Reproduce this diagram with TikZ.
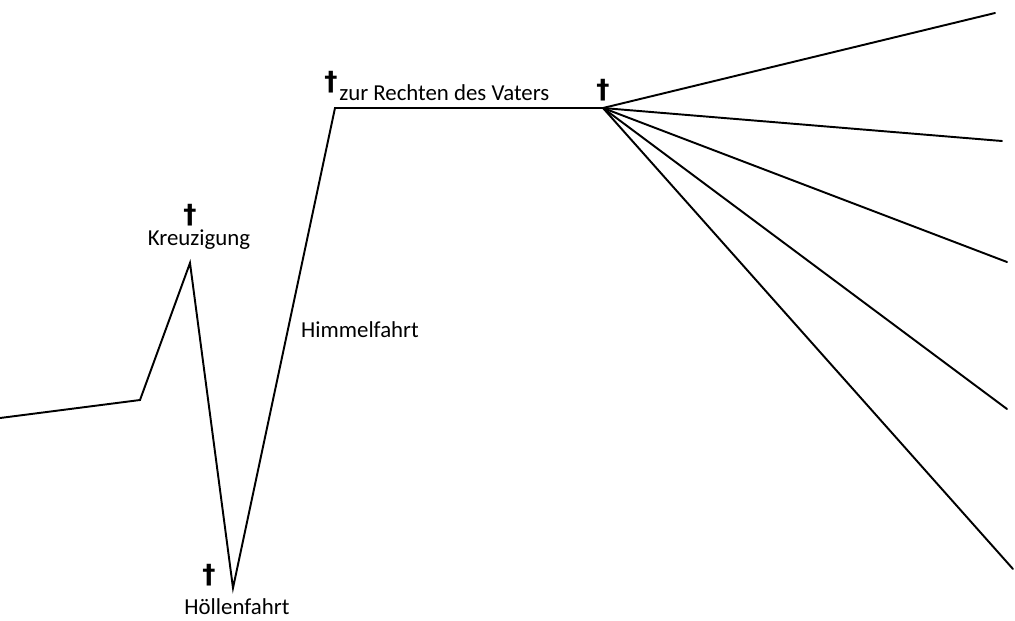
\documentclass[tikz,border=0pt]{standalone}
\usepackage{fontspec}
\setmainfont{Carlito}
\newfontfamily\kreuzschrift{DejaVu Sans}
\usetikzlibrary{positioning}

\tikzset{
  linie/.style={line width=1.1pt,line join=miter,line cap=round},
  beschrift/.style={inner sep=0pt,font=\fontsize{13}{15}\selectfont},
  kreuz/.style={inner sep=0pt,font=\fontsize{15}{15}\selectfont\kreuzschrift\bfseries}
}

\begin{document}
\begin{tikzpicture}[x=0.02cm,y=-0.02cm]
	\useasboundingbox (0,0) rectangle (1015,620);
	% Lebenslinie
	\coordinate (start) at (0,418);
	\coordinate (knick) at (140,400);
	\coordinate (kreuzigung) at (190,263);
	\coordinate (hoelle) at (233,588);
	\coordinate (rechte) at (335,108);
	\coordinate (vater) at (603,108);
	\draw[linie] (start)--(knick)--(kreuzigung)--(hoelle)--(rechte)--(vater);
	% Faecher
	\coordinate (f1) at (995,13);
	\coordinate (f2) at (1002,141);
	\coordinate (f3) at (1007,262);
	\coordinate (f4) at (1007,409);
	\coordinate (f5) at (1013,569);
	\foreach \f in {f1,f2,f3,f4,f5}
		\draw[linie] (vater)--(\f);
	% Beschriftung
	\node[beschrift] (tkreuz) at (199,240) {Kreuzigung};
	\node[kreuz] (k1) at (190,215) {†};
	\node[beschrift] (thoelle) at (237,607) {Höllenfahrt};
	\node[kreuz] (k2) at (209,575) {†};
	\node[beschrift] (thimmel) at (360,330) {Himmelfahrt};
	\node[kreuz] (k3) at (331,82) {†};
	\node[beschrift,anchor=base west] (trechte) at (339,100) {zur Rechten des Vaters};
	\node[kreuz] (k4) at (603,90) {†};
\end{tikzpicture}
\end{document}
